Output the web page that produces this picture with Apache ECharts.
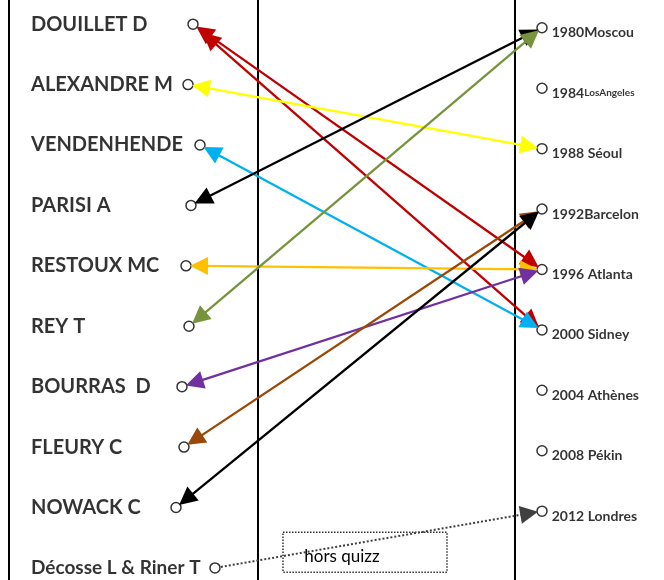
<!DOCTYPE html>
<html>
<head>
<meta charset="utf-8">
<script src="https://cdn.jsdelivr.net/npm/echarts@6/dist/echarts.min.js"></script>
<style>
  html, body { margin: 0; padding: 0; background: #fff; }
  #main { width: 664px; height: 580px; }
</style>
</head>
<body>
<div id="main"></div>
<script>
var myChart = echarts.init(document.getElementById('main'));

// judokas (colonne de gauche) et JO (colonne de droite)
var names = ['DOUILLET D', 'ALEXANDRE M', 'VENDENHENDE', 'PARISI A', 'RESTOUX MC', 'REY T',
  'BOURRAS  D', 'FLEURY C', 'NOWACK C', 'Décosse L & Riner T'];
var nameX = [193, 188, 200, 191, 186, 189, 182, 184, 176, 215]; // x des cercles
var games = ['1980Moscou', '1984LosAngeles', '1988 Séoul', '1992Barcelon', '1996 Atlanta',
  '2000 Sidney', '2004 Athènes', '2008 Pékin', '2012 Londres'];
var gameX = 542;

// liens [judoka, JO, couleur]
var links = [
  [0, 4, '#C00000'],
  [0, 5, '#C00000'],
  [1, 2, '#FFFF00'],
  [2, 5, '#00B0F0'],
  [3, 0, '#000000'],
  [4, 4, '#FFC000'],
  [5, 0, '#77933C'],
  [6, 4, '#7030A0'],
  [7, 3, '#984807'],
  [8, 3, '#000000']
];
var extraLink = [9, 8, '#404040']; // hors quizz

var rowShift = 0.06;
var pxPerRow = 580 / 9.6;

function seg(l, s1, s2) {
  var x1 = nameX[l[0]], y1 = l[0];
  var x2 = gameX, y2 = l[1] + rowShift;
  var dx = x2 - x1, dy = (y2 - y1) * pxPerRow;
  var len = Math.sqrt(dx * dx + dy * dy);
  var ux = dx / len, uy = dy / len / pxPerRow;
  return {
    coords: [[x1 + ux * s1, y1 + uy * s1], [x2 - ux * s2, y2 - uy * s2]],
    lineStyle: { color: l[2] }
  };
}

var font = 'Lato, "Open Sans", sans-serif';

var option = {
  animation: false,
  grid: { left: 0, right: 0, top: 0, bottom: 0 },
  xAxis: { type: 'value', min: 0, max: 664, show: false },
  yAxis: { type: 'value', min: -0.4, max: 9.2, inverse: true, show: false },
  series: [
    {
      type: 'scatter',
      silent: true,
      symbolSize: 0,
      data: names.map(function (n, i) {
        return {
          value: [31, i],
          name: n,
          label: i === 9 ? { fontSize: 19 } : undefined
        };
      }),
      label: {
        show: true,
        position: 'right',
        distance: 0,
        formatter: '{b}',
        color: '#000',
        fontWeight: 'bold',
        fontSize: 20,
        fontFamily: font
      },
      markLine: {
        silent: true,
        symbol: ['none', 'none'],
        label: { show: false },
        lineStyle: { color: '#000', type: 'solid', width: 2 },
        data: [{ xAxis: 9 }, { xAxis: 258 }, { xAxis: 515 }]
      },
      markArea: {
        silent: true,
        itemStyle: { color: 'rgba(0,0,0,0)', borderColor: '#333', borderWidth: 1.5, borderType: 'dotted' },
        label: {
          show: true,
          position: 'insideLeft',
          distance: 22,
          offset: [0, 4],
          color: '#000',
          fontSize: 17,
          fontFamily: font
        },
        data: [[{ name: 'hors quizz', coord: [283, 8.41] }, { coord: [447, 9.07] }]]
      }
    },
    {
      type: 'scatter',
      silent: true,
      symbol: 'circle',
      symbolSize: 10,
      itemStyle: { color: '#fff', borderColor: '#000', borderWidth: 1.5 },
      data: names.map(function (n, i) { return [nameX[i], i]; }),
      z: 3
    },
    {
      type: 'scatter',
      silent: true,
      symbol: 'circle',
      symbolSize: 10,
      itemStyle: { color: '#fff', borderColor: '#000', borderWidth: 1.5 },
      data: games.map(function (g, i) { return { value: [gameX, i + rowShift], name: g }; }),
      label: {
        show: true,
        position: 'right',
        distance: 4,
        offset: [0, 5],
        color: '#000',
        fontWeight: 'bold',
        fontSize: 14,
        fontFamily: font,
        formatter: function (p) {
          if (p.name === '1984LosAngeles') return '1984{s|LosAngeles}';
          return p.name;
        },
        rich: {
          s: { fontSize: 10, fontWeight: 'bold', fontFamily: font, color: '#000' }
        }
      },
      z: 3
    },
    {
      type: 'lines',
      coordinateSystem: 'cartesian2d',
      silent: true,
      symbol: ['triangle', 'triangle'],
      symbolSize: 18,
      lineStyle: { width: 2.3, opacity: 1, curveness: 0 },
      data: links.map(function (l, i) { return seg(l, i === 1 ? 22 : 13, 13); }),
      z: 5
    },
    {
      type: 'lines',
      coordinateSystem: 'cartesian2d',
      silent: true,
      symbol: ['none', 'triangle'],
      symbolSize: 18,
      lineStyle: { width: 2, type: 'dotted', opacity: 1, curveness: 0 },
      data: [seg(extraLink, 6, 13)],
      z: 5
    }
  ]
};

myChart.setOption(option);
</script>
</body>
</html>
